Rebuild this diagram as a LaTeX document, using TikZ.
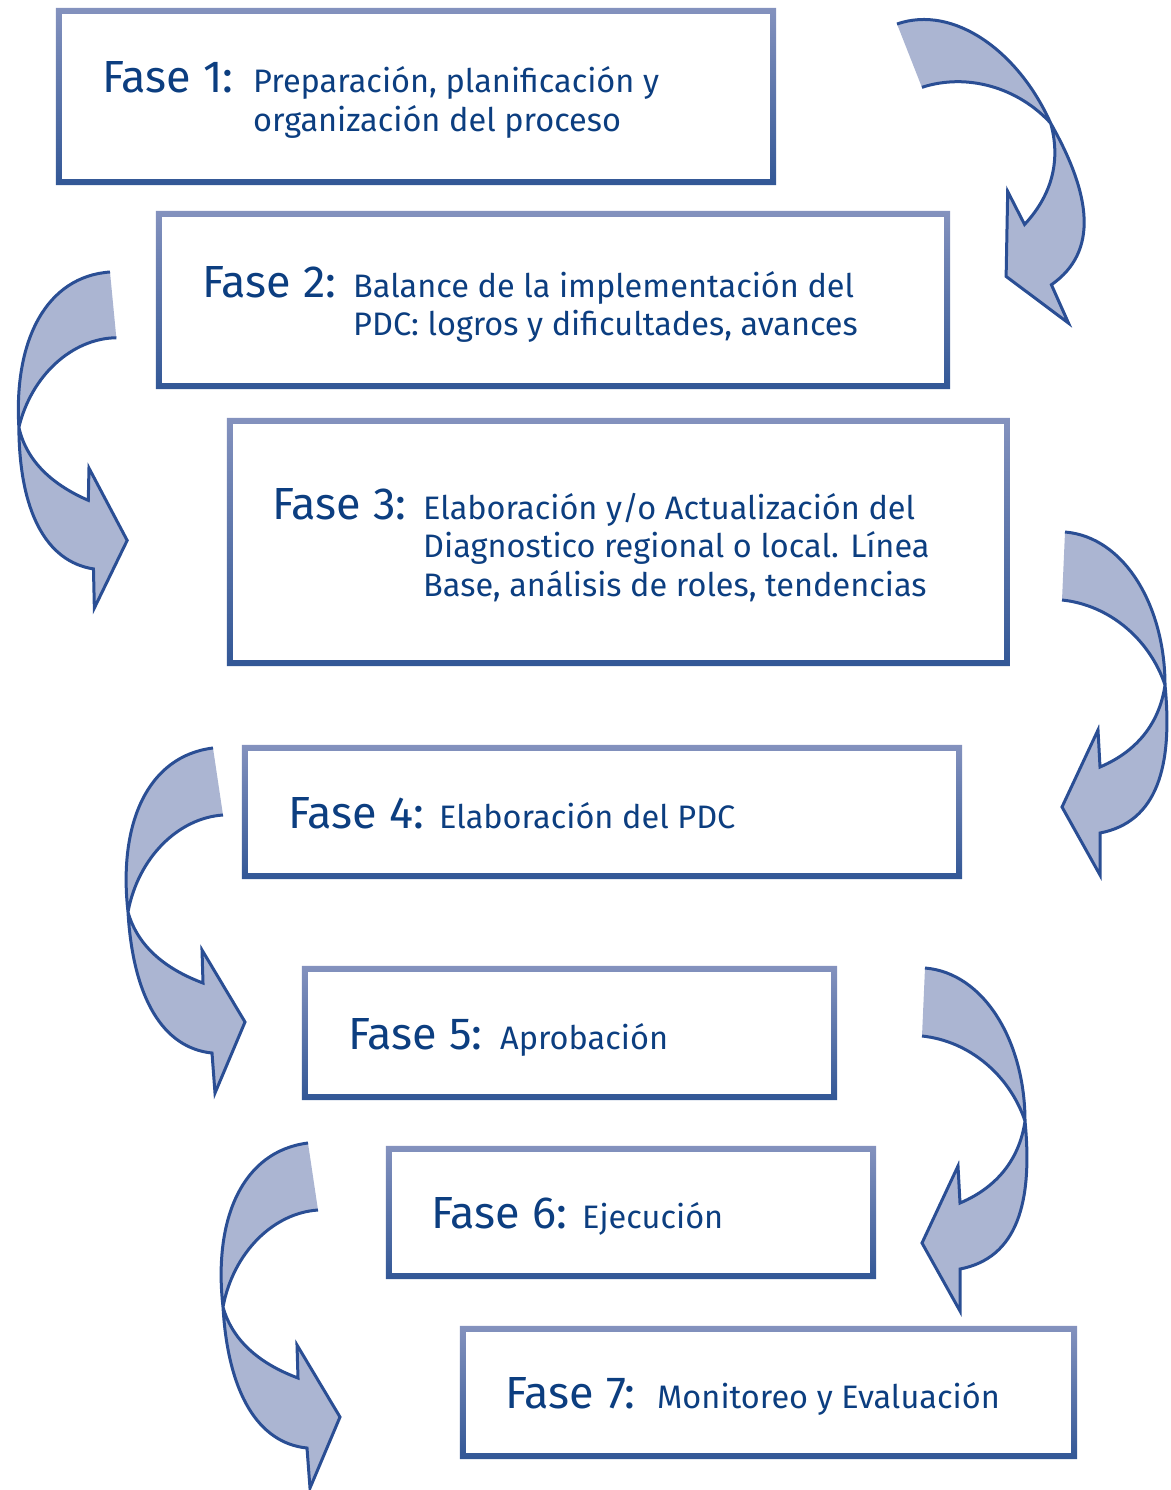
\documentclass[tikz,border=0pt]{standalone}
\usepackage{fontspec}
\setmainfont{Fira Sans}

\definecolor{faseblue}{RGB}{12,62,128}
\definecolor{frametop}{RGB}{132,146,190}
\definecolor{framebot}{RGB}{50,87,150}
\definecolor{bodyblue}{RGB}{171,181,210}
\definecolor{edgeblue}{RGB}{42,78,148}

% outlines of the two kinds of curved arrows (tail top at the origin)
\newcommand{\rcurve}{(0,0) .. controls (60,5) and (100,75) .. (100,153)
  .. controls (108,235) and (92,290) .. (35,301) -- (35,343) -- (-3,275)
  -- (33,198) -- (35,235) .. controls (75,218) and (95,188) .. (100,153)
  .. controls (85,108) and (45,73) .. (-3,68)}
\newcommand{\lcurve}{(0,0) .. controls (-65,8) and (-95,75) .. (-85,164)
  .. controls (-80,250) and (-50,300) .. (-1,305) -- (2,345) -- (32,274)
  -- (-11,202) -- (-10,235) .. controls (-45,222) and (-75,200) .. (-85,164)
  .. controls (-75,110) and (-35,70) .. (10,67)}

\tikzset{
  box/.style={inner sep=0pt},
  frame/.style={even odd rule, top color=frametop, bottom color=framebot},
  fase/.style={text=faseblue, font=\fontsize{45}{48}\selectfont, inner sep=0pt, anchor=base west},
  desc/.style={text=faseblue, font=\fontsize{32.5}{38.5}\selectfont, inner sep=0pt, align=left, anchor=base west},
  arrowbody/.style={fill=bodyblue},
  arrowedge/.style={draw=edgeblue, line width=3pt, line join=miter},
  rarrow/.pic={\fill[arrowbody] \rcurve -- cycle; \draw[arrowedge] \rcurve;},
  larrow/.pic={\fill[arrowbody] \lcurve -- cycle; \draw[arrowedge] \lcurve;}
}

\begin{document}
\begin{tikzpicture}[x=1pt, y=-1pt]

\useasboundingbox (0,0) rectangle (1170,1490);

% arrows
\pic[rotate=24] at (897,24) {rarrow};
\pic at (1065,532) {rarrow};
\pic at (925,968) {rarrow};
\pic[rotate=-3, scale=0.975] at (110,272) {larrow};
\pic at (213,748) {larrow};
\pic at (308,1143) {larrow};

% boxes
\node[box, minimum width=720pt, minimum height=177pt] (b1) at (416,96.5) {};
\node[box, minimum width=794pt, minimum height=178pt] (b2) at (553,300) {};
\node[box, minimum width=783pt, minimum height=248pt] (b3) at (618.5,542) {};
\node[box, minimum width=720pt, minimum height=134pt] (b4) at (602,812) {};
\node[box, minimum width=535pt, minimum height=134pt] (b5) at (569.5,1033) {};
\node[box, minimum width=490pt, minimum height=133pt] (b6) at (631,1212.5) {};
\node[box, minimum width=617pt, minimum height=133pt] (b7) at (768.5,1392.5) {};

\foreach \b in {b1,b2,b3,b4,b5,b6,b7}
  \path[frame] (\b.north west) rectangle (\b.south east)
    ([shift={(6,6)}]\b.north west) rectangle ([shift={(-6,-6)}]\b.south east);

% texts (a multi-line node sits on the baseline of its last line)
\node[fase] (f1) at (102,93) {Fase 1:};
\node[desc] (d1) at (253,131.5) {Preparación, planificación y\\organización del proceso};
\node[fase] (f2) at (202,297) {Fase 2:};
\node[desc] (d2) at (353,335.5) {Balance de la implementación del\\PDC: logros y dificultades, avances};
\node[fase] (f3) at (272,519) {Fase 3:};
\node[desc] (d3) at (423,596) {Elaboración y/o Actualización del\\Diagnostico regional o local. Línea\\Base, análisis de roles, tendencias};
\node[fase] (f4) at (288,828) {Fase 4:};
\node[desc] (d4) at (439,828) {Elaboración del PDC};
\node[fase] (f5) at (348,1049) {Fase 5:};
\node[desc] (d5) at (500,1049) {Aprobación};
\node[fase] (f6) at (431,1228) {Fase 6:};
\node[desc] (d6) at (582,1228) {Ejecución};
\node[fase] (f7) at (505,1408) {Fase 7:};
\node[desc] (d7) at (657,1408) {Monitoreo y Evaluación};

\end{tikzpicture}
\end{document}
